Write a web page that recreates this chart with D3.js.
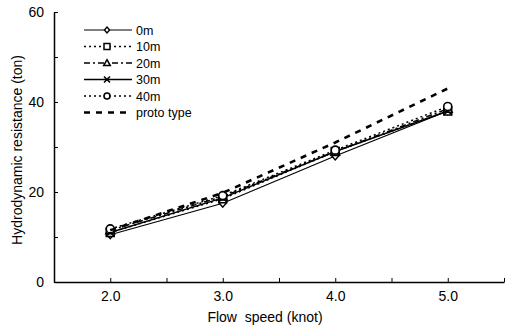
<!DOCTYPE html>
<html>
<head>
<meta charset="utf-8">
<script src="https://cdn.jsdelivr.net/npm/d3@7"></script>
<style>
    body { margin: 0; background: #fff; }
    svg { display: block; font-family: "Liberation Sans", Arial, sans-serif; }
</style>
</head>
<body>
<div id="chart"></div>
<script>
    // flow speeds (knot)
    const speeds = [2.0, 3.0, 4.0, 5.0];
    const seriesNames = ["0m", "10m", "20m", "30m", "40m", "proto type"];
    // hydrodynamic resistance (ton)
    const v0m = [10.5, 17.5, 28.0, 38.0];
    const v10m = [11.0, 18.5, 29.0, 38.0];
    const v20m = [11.5, 19.0, 29.0, 38.5];
    const v30m = [11.0, 18.7, 29.0, 38.0];
    const v40m = [11.8, 19.2, 29.3, 39.0];
    const vProto = [11.5, 19.8, 31.0, 43.0];
    const yTicks = [0, 20, 40, 60];
    const xTicks = [2.0, 3.0, 4.0, 5.0];

    const width = 507, height = 327;
    const svg = d3.select("#chart").append("svg")
        .attr("width", width)
        .attr("height", height);

    const x = d3.scaleLinear().domain([1.5, 5.5]).range([54, 504]);
    const y = d3.scaleLinear().domain([0, 60]).range([282, 12]);

    /********** axes **********/
    const xAxis = d3.axisBottom(x)
        .tickValues(d3.range(1.5, 5.51, 0.5))
        .tickSizeInner(-4)
        .tickSizeOuter(0)
        .tickPadding(9)
        .tickFormat(d => xTicks.includes(d) ? d3.format(".1f")(d) : "");
    svg.append("g")
        .attr("transform", `translate(0,${y(0)})`)
        .call(xAxis)
        .call(g => g.select(".domain").attr("stroke-width", 1.5))
        .call(g => g.selectAll("text").attr("font-size", 14).attr("fill", "#000")
            .attr("font-family", "Liberation Sans, Arial, sans-serif"));

    const yAxis = d3.axisLeft(y)
        .tickValues(d3.range(0, 60.1, 10))
        .tickSizeInner(-4)
        .tickSizeOuter(0)
        .tickPadding(10)
        .tickFormat(d => yTicks.includes(d) ? d : "");
    svg.append("g")
        .attr("transform", `translate(${x(1.5)},0)`)
        .call(yAxis)
        .call(g => g.select(".domain").attr("stroke-width", 1.5))
        .call(g => g.selectAll("text").attr("font-size", 14).attr("fill", "#000")
            .attr("font-family", "Liberation Sans, Arial, sans-serif"));

    svg.append("text")
        .attr("x", 265).attr("y", 322)
        .attr("text-anchor", "middle")
        .attr("font-size", 14)
        .text("Flow\u00a0\u00a0speed (knot)");

    svg.append("text")
        .attr("transform", "translate(22,150) rotate(-90)")
        .attr("text-anchor", "middle")
        .attr("font-size", 14)
        .text("Hydrodynamic resistance (ton)");

    /********** series **********/
    const styles = [
        { values: v0m, dash: null, width: 1.2, marker: "diamond" },
        { values: v10m, dash: "2,3", width: 1.5, marker: "square" },
        { values: v20m, dash: "6,3,2,3", width: 1.5, marker: "triangle" },
        { values: v30m, dash: null, width: 1.4, marker: "cross" },
        { values: v40m, dash: "2,3", width: 1.5, marker: "circle" },
        { values: vProto, dash: "6,6", width: 2.6, marker: null }
    ];

    const line = d3.line()
        .x((d, i) => x(speeds[i]))
        .y(d => y(d));

    function drawMarker(g, type, cx, cy, r) {
        if (type === "diamond") {
            g.append("path").attr("d", `M${cx},${cy - r}L${cx + r * 0.85},${cy}L${cx},${cy + r}L${cx - r * 0.85},${cy}Z`)
                .attr("fill", "#fff").attr("stroke", "#000").attr("stroke-width", 1.4);
        } else if (type === "square") {
            g.append("rect").attr("x", cx - r).attr("y", cy - r).attr("width", 2 * r).attr("height", 2 * r)
                .attr("fill", "#fff").attr("stroke", "#000").attr("stroke-width", 1.5);
        } else if (type === "triangle") {
            g.append("path").attr("d", `M${cx},${cy - r * 1.1}L${cx + r * 1.1},${cy + r * 0.85}L${cx - r * 1.1},${cy + r * 0.85}Z`)
                .attr("fill", "#fff").attr("stroke", "#000").attr("stroke-width", 1.5);
        } else if (type === "cross") {
            g.append("path").attr("d", `M${cx - r},${cy - r}L${cx + r},${cy + r}M${cx + r},${cy - r}L${cx - r},${cy + r}`)
                .attr("stroke", "#000").attr("stroke-width", 1.6);
        } else if (type === "circle") {
            g.append("circle").attr("cx", cx).attr("cy", cy).attr("r", r)
                .attr("fill", "#fff").attr("stroke", "#000").attr("stroke-width", 1.6);
        }
    }

    styles.forEach(s => {
        svg.append("path")
            .datum(s.values)
            .attr("d", line)
            .attr("fill", "none")
            .attr("stroke", "#000")
            .attr("stroke-width", s.width)
            .attr("stroke-dasharray", s.dash);
        if (s.marker) {
            const g = svg.append("g");
            s.values.forEach((v, i) => drawMarker(g, s.marker, x(speeds[i]), y(v), 4));
        }
    });

    /********** legend **********/
    const legend = svg.append("g");
    seriesNames.forEach((name, i) => {
        const s = styles[i];
        const ly = 30 + i * 16.5;
        legend.append("line")
            .attr("x1", 84).attr("x2", 132)
            .attr("y1", ly).attr("y2", ly)
            .attr("stroke", "#000")
            .attr("stroke-width", s.width)
            .attr("stroke-dasharray", s.dash);
        if (s.marker) drawMarker(legend, s.marker, 107, ly, 3);
        legend.append("text")
            .attr("x", 136).attr("y", ly + 4.5)
            .attr("font-size", 12.5)
            .text(name);
    });
</script>
</body>
</html>
